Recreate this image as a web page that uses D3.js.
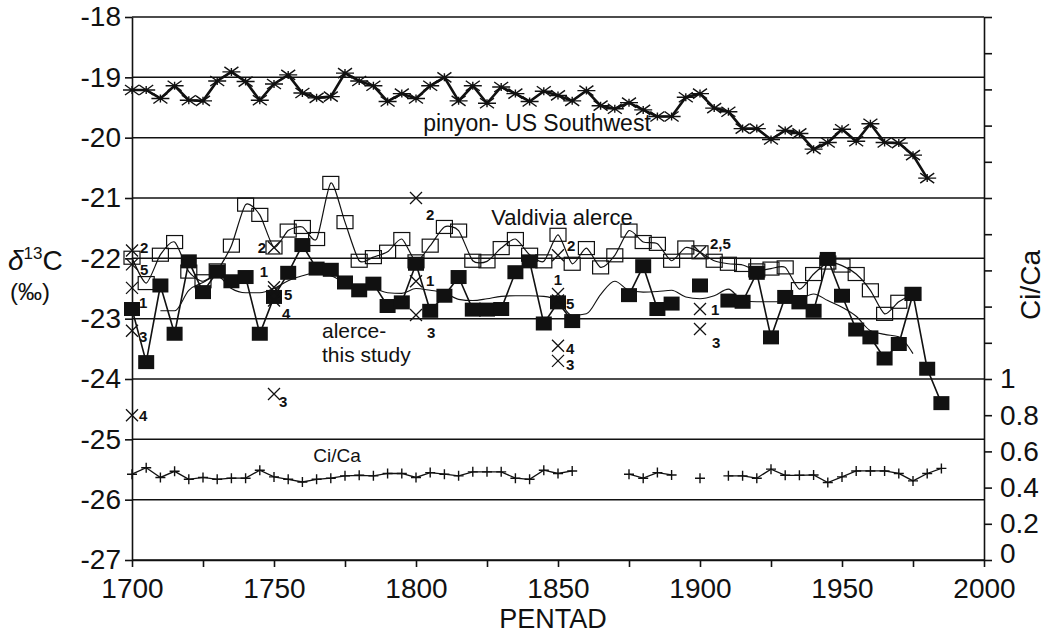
<!DOCTYPE html>
<html>
<head>
<meta charset="utf-8">
<script src="https://cdn.jsdelivr.net/npm/d3@7"></script>
<style>
  body { margin: 0; background: #fff; }
  svg { font-family: "Liberation Sans", Arial, Helvetica, sans-serif; }
</style>
</head>
<body>
<svg width="1056" height="635"></svg>
<script>
// pentads (5-year steps)
var pinyonYears = d3.range(1700, 1981, 5);
var pinyon = [-19.21, -19.21, -19.35, -19.14, -19.38, -19.39, -19.06, -18.91, -19.07, -19.38,
  -19.11, -18.96, -19.26, -19.34, -19.32, -18.93, -19.06, -19.14, -19.40, -19.27,
  -19.35, -19.14, -19.00, -19.39, -19.14, -19.43, -19.16, -19.27, -19.40, -19.23,
  -19.30, -19.39, -19.22, -19.47, -19.52, -19.42, -19.54, -19.65, -19.65, -19.33,
  -19.27, -19.51, -19.57, -19.85, -19.85, -20.03, -19.88, -19.93, -20.19, -20.08,
  -19.86, -20.06, -19.77, -20.08, -20.09, -20.29, -20.67];

// alerce - this study (filled squares), null = no value
var studyYears = d3.range(1700, 1986, 5);
var study = [-22.84, -23.72, -22.45, -23.25, -22.05, -22.56, -22.22, -22.38, -22.31, -23.25,
  -22.64, -22.24, -21.78, -22.17, -22.19, -22.40, -22.53, -22.42, -22.79, -22.73,
  -22.09, -22.87, -22.62, -22.31, -22.85, -22.85, -22.84, -22.23, -22.05, -23.08,
  -22.73, -23.04, null, null, null, -22.61, -22.13, -22.84, -22.75, null,
  -22.45, null, -22.70, -22.72, -22.24, -23.31, -22.64, -22.73, -22.87, -22.01,
  -22.62, -23.18, -23.31, -23.66, -23.42, -22.59, -23.83, -24.40];

// smoothed curve of this study (thin line)
var studySmoothYears = d3.range(1710, 1976, 5);
var studySmooth = [-22.87, -22.87, -22.53, -22.40, -22.29, -22.50, -22.57, -22.57, -22.50, -22.37,
  -22.29, -22.24, -22.29, -22.40, -22.48, -22.50, -22.57, -22.58, -22.50, -22.53,
  -22.57, -22.68, -22.70, -22.67, -22.63, -22.62, -22.62, -22.63, -22.70, -22.95,
  -22.92, -22.60, -22.38, -22.53, -22.56, -22.55, -22.53, -22.64, -22.67, -22.62,
  -22.51, -22.70, -22.72, -22.72, -22.72, -22.68, -22.59, -22.70, -22.81, -22.96,
  -23.20, -23.26, -23.30, -23.58];

// Valdivia alerce (open squares)
var valdiviaYears = d3.range(1700, 1976, 5);
var valdivia = [-21.99, -22.41, -21.94, -21.73, -22.22, -22.38, -22.20, -21.79, -21.11, -21.28,
  -21.82, -21.54, -21.48, -21.68, -20.75, -21.40, -22.04, -21.98, -21.89, -21.68,
  -22.05, -21.79, -21.48, -21.54, -22.04, -22.05, -21.83, -21.68, -21.94, -22.05,
  -21.61, -22.09, -21.83, -22.15, -21.95, -21.54, -21.73, -21.76, -22.04, -21.82,
  -21.90, -22.04, -22.09, -22.11, -22.20, -22.17, -22.15, -22.51, -22.26, -22.07,
  -22.12, -22.26, -22.53, -22.92, -22.72, -22.59];

// other alerce records (x marks with site numbers)
var crossYears = [1700, 1700, 1700, 1700, 1700, 1750, 1750, 1750, 1750, 1750,
  1800, 1800, 1800, 1850, 1850, 1850, 1850, 1850, 1900, 1900, 1900];
var crossValues = [-21.87, -22.49, -23.20, -24.60, -22.10, -21.82, -22.48, -22.55, -22.70, -24.25,
  -21.00, -22.38, -22.94, -21.95, -22.59, -22.70, -23.45, -23.70, -21.90, -22.84, -23.17];
var crossLabels = ['2', '1', '3', '4', '5', '2', '1', '5', '4', '3',
  '2', '1', '3', '2', '1', '5', '4', '3', '2,5', '1', '3'];

// Ci/Ca (right axis)
var ciYears = d3.range(1700, 1986, 5);
var ciCa = [0.474, 0.510, 0.456, 0.490, 0.446, 0.456, 0.446, 0.452, 0.452, 0.496,
  0.459, 0.446, 0.431, 0.446, 0.452, 0.465, 0.468, 0.465, 0.478, 0.478,
  0.456, 0.483, 0.474, 0.465, 0.487, 0.487, 0.487, 0.452, 0.446, 0.496,
  0.478, 0.492, null, null, null, 0.474, 0.452, 0.483, 0.470, null,
  0.452, null, 0.465, 0.465, 0.452, 0.502, 0.468, 0.468, 0.470, 0.428,
  0.459, 0.492, 0.492, 0.492, 0.478, 0.437, 0.478, 0.506];

var leftTicks = d3.range(-27, -17, 1);
var bottomTicks = d3.range(1700, 2001, 25);
var rightTicks = d3.range(0, 3.01, 0.2);

var svg = d3.select('svg');

// Setup scales ------------------------------------------------------------
var x = d3.scaleLinear().domain([1700, 2000]).range([132, 984]);
var y = d3.scaleLinear().domain([-27, -18]).range([560, 17]);
var yR = d3.scaleLinear().domain([0, 3]).range([560, 17]);

var zip = (xs, vs) => xs.map((d, i) => ({year: d, v: vs[i]}));

// gridlines
svg.append('g').selectAll('line').data(leftTicks).enter().append('line')
  .attr('x1', x(1700)).attr('x2', x(2000))
  .attr('y1', d => y(d)).attr('y2', d => y(d))
  .attr('stroke', '#111').attr('stroke-width', 1.5);

// Axes ------------------------------------------------------------------------
var axisFont = g => g.selectAll('text').attr('font-size', 28).attr('fill', '#111');

svg.append('g').attr('transform', 'translate(' + [x(1700), 0] + ')')
  .call(d3.axisLeft(y).tickValues(leftTicks).tickFormat(d => String(d))
    .tickSize(7).tickSizeOuter(0).tickPadding(4))
  .call(axisFont)
  .call(g => g.selectAll('line,path').attr('stroke', '#111').attr('stroke-width', 1.6));

svg.append('g').attr('transform', 'translate(' + [0, y(-27)] + ')')
  .call(d3.axisBottom(x).tickValues(bottomTicks).tickFormat(d => d % 50 === 0 ? d : '')
    .tickSize(7).tickSizeOuter(0).tickPadding(11))
  .call(axisFont)
  .call(g => g.selectAll('line,path').attr('stroke', '#111').attr('stroke-width', 1.6));

svg.append('g').attr('transform', 'translate(' + [x(2000), 0] + ')')
  .call(d3.axisRight(yR).tickValues(rightTicks)
    .tickFormat(d => d < 1.01 ? String(+d.toFixed(1)) : '')
    .tickSize(8).tickSizeOuter(0).tickPadding(8))
  .call(axisFont)
  .call(g => g.selectAll('line,path').attr('stroke', '#111').attr('stroke-width', 1.6))
  .call(g => g.selectAll('.tick').filter(d => d < 0.01).select('text').attr('dy', '0.1em'));

// Lines -----------------------------------------------------------------------
var line = d3.line().defined(d => d.v != null).x(d => x(d.year)).y(d => y(d.v));
var ciLine = d3.line().defined(d => d.v != null).x(d => x(d.year)).y(d => yR(d.v));

svg.append('path').datum(zip(valdiviaYears, valdivia))
  .attr('d', line.curve(d3.curveCardinal.tension(0.3)))
  .attr('fill', 'none').attr('stroke', '#111').attr('stroke-width', 1.2);
line.curve(d3.curveLinear);

svg.append('path').datum(zip(studySmoothYears, studySmooth))
  .attr('d', d3.line().x(d => x(d.year)).y(d => y(d.v)).curve(d3.curveMonotoneX))
  .attr('fill', 'none').attr('stroke', '#111').attr('stroke-width', 1.1);

svg.append('path').datum(zip(studyYears, study))
  .attr('d', line)
  .attr('fill', 'none').attr('stroke', '#111').attr('stroke-width', 1.6);

svg.append('path').datum(zip(pinyonYears, pinyon))
  .attr('d', line)
  .attr('fill', 'none').attr('stroke', '#111').attr('stroke-width', 2.6);

svg.append('path').datum(zip(ciYears, ciCa))
  .attr('d', ciLine)
  .attr('fill', 'none').attr('stroke', '#111').attr('stroke-width', 1.3);

// Markers ---------------------------------------------------------------------
var star = 'M-9,0L9,0M-7,-5L7,5M-7,5L7,-5M0,-4L0,4';
svg.append('g').selectAll('path').data(zip(pinyonYears, pinyon)).enter().append('path')
  .attr('transform', d => 'translate(' + [x(d.year), y(d.v)] + ')')
  .attr('d', star).attr('stroke', '#111').attr('stroke-width', 1.4).attr('fill', 'none');

svg.append('g').selectAll('rect').data(zip(valdiviaYears, valdivia)).enter().append('rect')
  .attr('x', d => x(d.year) - 8).attr('y', d => y(d.v) - 6.5)
  .attr('width', 16).attr('height', 13)
  .attr('fill', 'none').attr('stroke', '#111').attr('stroke-width', 1.2);

svg.append('g').selectAll('rect').data(zip(studyYears, study).filter(d => d.v != null)).enter().append('rect')
  .attr('x', d => x(d.year) - 8).attr('y', d => y(d.v) - 7)
  .attr('width', 16).attr('height', 14)
  .attr('fill', '#111');

var cross = 'M-6,-6L6,6M-6,6L6,-6';
var crosses = crossYears.map((d, i) => ({year: d, v: crossValues[i], label: crossLabels[i]}));
svg.append('g').selectAll('path').data(crosses).enter().append('path')
  .attr('transform', d => 'translate(' + [x(d.year), y(d.v)] + ')')
  .attr('d', cross).attr('stroke', '#111').attr('stroke-width', 1.3);

// label offsets for the site numbers [dx, dy, anchor]
var labelPos = [[8, 3, 'start'], [7, 20, 'start'], [7, 11, 'start'], [7, 6, 'start'], [8, 11, 'start'],
  [-8, 6, 'end'], [-6, -10, 'end'], [10, 8, 'start'], [8, 18, 'start'], [5, 13, 'start'],
  [10, 22, 'start'], [10, 5, 'start'], [11, 23, 'start'],
  [9, -4, 'start'], [0, -9, 'middle'], [8, 8, 'start'], [8, 8, 'start'], [8, 9, 'start'],
  [10, -3, 'start'], [11, 6, 'start'], [12, 19, 'start']];
svg.append('g').selectAll('text').data(crosses).enter().append('text')
  .attr('x', (d, i) => x(d.year) + labelPos[i][0])
  .attr('y', (d, i) => y(d.v) + labelPos[i][1])
  .attr('text-anchor', (d, i) => labelPos[i][2])
  .attr('font-size', 15).attr('font-weight', 'bold').attr('fill', '#111')
  .text(d => d.label);

var plus = 'M-5,0L5,0M0,-5L0,5';
svg.append('g').selectAll('path').data(zip(ciYears, ciCa).filter(d => d.v != null)).enter().append('path')
  .attr('transform', d => 'translate(' + [x(d.year), yR(d.v)] + ')')
  .attr('d', plus).attr('stroke', '#111').attr('stroke-width', 1.4);

// Text ------------------------------------------------------------------------
var addText = (tx, ty, str, size, anchor) => svg.append('text')
  .attr('x', tx).attr('y', ty).attr('font-size', size)
  .attr('text-anchor', anchor || 'start').attr('fill', '#111').text(str);

addText(537, 131, 'pinyon- US Southwest', 23, 'middle');
addText(562, 225, 'Valdivia alerce', 22, 'middle');
addText(322, 338, 'alerce-', 21);
addText(322, 362, 'this study', 21);
addText(337, 462, 'Ci/Ca', 19, 'middle');
addText(553, 628, 'PENTAD', 27, 'middle');

var dl = svg.append('text').attr('x', 8).attr('y', 270).attr('font-size', 28).attr('fill', '#111');
dl.append('tspan').attr('font-style', 'italic').text('δ');
dl.append('tspan').attr('font-size', 17).attr('dy', -11).text('13');
dl.append('tspan').attr('dy', 11).text('C');
addText(10, 300, '(‰)', 24);

svg.append('text').attr('transform', 'translate(1040,285) rotate(-90)')
  .attr('text-anchor', 'middle').attr('font-size', 28).attr('fill', '#111').text('Ci/Ca');
</script>
</body>
</html>
